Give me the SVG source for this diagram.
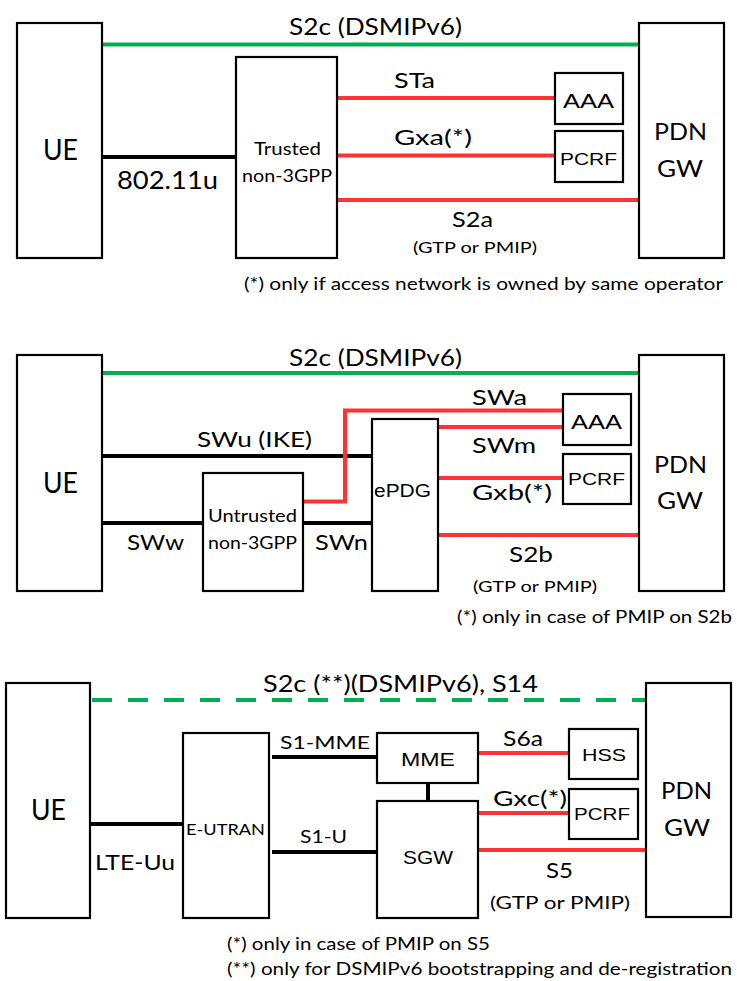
<svg xmlns="http://www.w3.org/2000/svg" width="737" height="981" viewBox="0 0 737 981">
<style>
.box{fill:#fff;stroke:#000;stroke-width:2.2}
.blk{stroke:#000;stroke-width:4;fill:none}
.red{stroke:#ff3333;stroke-width:4;fill:none}
.grn{stroke:#00b050;stroke-width:4;fill:none}
.dash{stroke-dasharray:20 16}
text{font-family:Lato,"Open Sans",sans-serif;fill:#000}
.a{font-family:"Liberation Sans",Arial,sans-serif}
</style>
<rect width="737" height="981" fill="#fff"/>
<g id="connectors">
<!-- top -->
<line class="grn" x1="102" y1="44.5" x2="639" y2="44.5"/>
<line class="blk" x1="102" y1="157" x2="236" y2="157"/>
<line class="red" x1="337" y1="98" x2="555" y2="98"/>
<line class="red" x1="337" y1="155.5" x2="555" y2="155.5"/>
<line class="red" x1="337" y1="200" x2="639" y2="200"/>
<!-- middle -->
<line class="grn" x1="102" y1="373" x2="639" y2="373"/>
<line class="blk" x1="102" y1="456" x2="372" y2="456"/>
<line class="blk" x1="102" y1="523" x2="203" y2="523"/>
<line class="blk" x1="303" y1="523" x2="372" y2="523"/>
<polyline class="red" points="303,501.5 345,501.5 345,410.5 563,410.5"/>
<line class="red" x1="438" y1="427" x2="563" y2="427"/>
<line class="red" x1="438" y1="478" x2="563" y2="478"/>
<line class="red" x1="438" y1="535" x2="639" y2="535"/>
<!-- bottom -->
<line class="grn dash" x1="92" y1="700" x2="646" y2="700"/>
<line class="blk" x1="90" y1="824" x2="183" y2="824"/>
<line class="blk" x1="272" y1="757" x2="377" y2="757"/>
<line class="blk" x1="272" y1="852" x2="377" y2="852"/>
<line class="blk" x1="428" y1="783" x2="428" y2="801"/>
<line class="red" x1="478" y1="753" x2="569" y2="753"/>
<line class="red" x1="478" y1="813" x2="569" y2="813"/>
<line class="red" x1="478" y1="850" x2="646" y2="850"/>
</g>
<g id="labels">
<text x="289" y="35" font-size="23" textLength="173" lengthAdjust="spacingAndGlyphs">S2c (DSMIPv6)</text>
<text x="117" y="189" font-size="25" textLength="101" lengthAdjust="spacingAndGlyphs">802.11u</text>
<text x="394" y="88" font-size="21" textLength="41" lengthAdjust="spacingAndGlyphs">STa</text>
<text x="394" y="145" font-size="21" textLength="78" lengthAdjust="spacingAndGlyphs">Gxa(*)</text>
<text x="452" y="227" font-size="21" textLength="41" lengthAdjust="spacingAndGlyphs">S2a</text>
<text x="413" y="253" font-size="16" textLength="124" lengthAdjust="spacingAndGlyphs">(GTP or PMIP)</text>
<text x="244" y="290" font-size="18" textLength="479" lengthAdjust="spacingAndGlyphs">(*) only if access network is owned by same operator</text>

<text x="289" y="366" font-size="23" textLength="173" lengthAdjust="spacingAndGlyphs">S2c (DSMIPv6)</text>
<text x="197" y="447" font-size="21" textLength="115" lengthAdjust="spacingAndGlyphs">SWu (IKE)</text>
<text x="127" y="550" font-size="21" textLength="57" lengthAdjust="spacingAndGlyphs">SWw</text>
<text x="315" y="550" font-size="21" textLength="53" lengthAdjust="spacingAndGlyphs">SWn</text>
<text x="472" y="405" font-size="21" textLength="55" lengthAdjust="spacingAndGlyphs">SWa</text>
<text x="472" y="453" font-size="21" textLength="64" lengthAdjust="spacingAndGlyphs">SWm</text>
<text x="472" y="500" font-size="21" textLength="80" lengthAdjust="spacingAndGlyphs">Gxb(*)</text>
<text x="509" y="562" font-size="21" textLength="44" lengthAdjust="spacingAndGlyphs">S2b</text>
<text x="473" y="592" font-size="16" textLength="124" lengthAdjust="spacingAndGlyphs">(GTP or PMIP)</text>
<text x="457" y="623" font-size="18" textLength="275" lengthAdjust="spacingAndGlyphs">(*) only in case of PMIP on S2b</text>

<text x="263" y="692" font-size="23" textLength="275" lengthAdjust="spacingAndGlyphs">S2c (**)(DSMIPv6), S14</text>
<text x="95" y="870" font-size="21" textLength="80" lengthAdjust="spacingAndGlyphs">LTE-Uu</text>
<text x="280" y="749" font-size="18" textLength="90" lengthAdjust="spacingAndGlyphs">S1-MME</text>
<text x="300" y="843" font-size="18" textLength="47" lengthAdjust="spacingAndGlyphs">S1-U</text>
<text x="503" y="746" font-size="21" textLength="40" lengthAdjust="spacingAndGlyphs">S6a</text>
<text x="493" y="806" font-size="21" textLength="74" lengthAdjust="spacingAndGlyphs">Gxc(*)</text>
<text x="546" y="878" font-size="21" textLength="27" lengthAdjust="spacingAndGlyphs">S5</text>
<text x="490" y="909" font-size="18" textLength="140" lengthAdjust="spacingAndGlyphs">(GTP or PMIP)</text>
<text x="227" y="950" font-size="17" textLength="263" lengthAdjust="spacingAndGlyphs">(*) only in case of PMIP on S5</text>
<text x="227" y="975" font-size="17" textLength="505" lengthAdjust="spacingAndGlyphs">(**) only for DSMIPv6 bootstrapping and de-registration</text>
</g>
<!-- top section nodes -->
<g id="ue1"><rect class="box" x="17" y="23" width="85" height="235"/><text x="43" y="160" font-size="28" textLength="35" lengthAdjust="spacingAndGlyphs">UE</text></g>
<g id="trusted"><rect class="box" x="236" y="57" width="101" height="201"/><text x="254" y="155" font-size="17" textLength="67" lengthAdjust="spacingAndGlyphs">Trusted</text><text x="242" y="182" font-size="17" textLength="90" lengthAdjust="spacingAndGlyphs">non-3GPP</text></g>
<g id="aaa1"><rect class="box" x="555" y="73" width="68" height="51"/><text class="a" x="563" y="108" font-size="20" textLength="51" lengthAdjust="spacingAndGlyphs">AAA</text></g>
<g id="pcrf1"><rect class="box" x="555" y="131" width="68" height="51"/><text class="a" x="560" y="165" font-size="17" textLength="57" lengthAdjust="spacingAndGlyphs">PCRF</text></g>
<g id="pdngw1"><rect class="box" x="639" y="23" width="85" height="235"/><text x="654" y="140" font-size="24" textLength="53" lengthAdjust="spacingAndGlyphs">PDN</text><text x="657" y="177" font-size="24" textLength="46" lengthAdjust="spacingAndGlyphs">GW</text></g>
<!-- middle section nodes -->
<g id="ue2"><rect class="box" x="17" y="355" width="85" height="236"/><text x="43" y="493" font-size="28" textLength="35" lengthAdjust="spacingAndGlyphs">UE</text></g>
<g id="untrusted"><rect class="box" x="203" y="473" width="100" height="118"/><text x="208" y="522" font-size="17" textLength="89" lengthAdjust="spacingAndGlyphs">Untrusted</text><text x="208" y="549" font-size="17" textLength="89" lengthAdjust="spacingAndGlyphs">non-3GPP</text></g>
<g id="epdg"><rect class="box" x="372" y="419" width="66" height="172"/><text class="a" x="374" y="497" font-size="18" textLength="57" lengthAdjust="spacingAndGlyphs">ePDG</text></g>
<g id="aaa2"><rect class="box" x="563" y="394" width="68" height="51"/><text class="a" x="571" y="429" font-size="20" textLength="51" lengthAdjust="spacingAndGlyphs">AAA</text></g>
<g id="pcrf2"><rect class="box" x="563" y="454" width="68" height="50"/><text class="a" x="568" y="485" font-size="17" textLength="57" lengthAdjust="spacingAndGlyphs">PCRF</text></g>
<g id="pdngw2"><rect class="box" x="639" y="355" width="85" height="236"/><text x="654" y="473" font-size="24" textLength="53" lengthAdjust="spacingAndGlyphs">PDN</text><text x="657" y="509" font-size="24" textLength="46" lengthAdjust="spacingAndGlyphs">GW</text></g>
<!-- bottom section nodes -->
<g id="ue3"><rect class="box" x="6" y="683" width="84" height="235"/><text x="31" y="820" font-size="28" textLength="35" lengthAdjust="spacingAndGlyphs">UE</text></g>
<g id="eutran"><rect class="box" x="183" y="733" width="86" height="185"/><text x="186" y="835" font-size="16" textLength="79" lengthAdjust="spacingAndGlyphs">E-UTRAN</text></g>
<g id="mme"><rect class="box" x="377" y="733" width="101" height="50"/><text class="a" x="401" y="766" font-size="19" textLength="54" lengthAdjust="spacingAndGlyphs">MME</text></g>
<g id="sgw"><rect class="box" x="377" y="801" width="101" height="117"/><text class="a" x="403" y="864" font-size="19" textLength="50" lengthAdjust="spacingAndGlyphs">SGW</text></g>
<g id="hss"><rect class="box" x="569" y="729" width="69" height="50"/><text class="a" x="582" y="761" font-size="17" textLength="44" lengthAdjust="spacingAndGlyphs">HSS</text></g>
<g id="pcrf3"><rect class="box" x="569" y="789" width="69" height="50"/><text class="a" x="574" y="820" font-size="17" textLength="56" lengthAdjust="spacingAndGlyphs">PCRF</text></g>
<g id="pdngw3"><rect class="box" x="646" y="683" width="85" height="234"/><text x="661" y="799" font-size="24" textLength="51" lengthAdjust="spacingAndGlyphs">PDN</text><text x="664" y="836" font-size="24" textLength="46" lengthAdjust="spacingAndGlyphs">GW</text></g>
</svg>
